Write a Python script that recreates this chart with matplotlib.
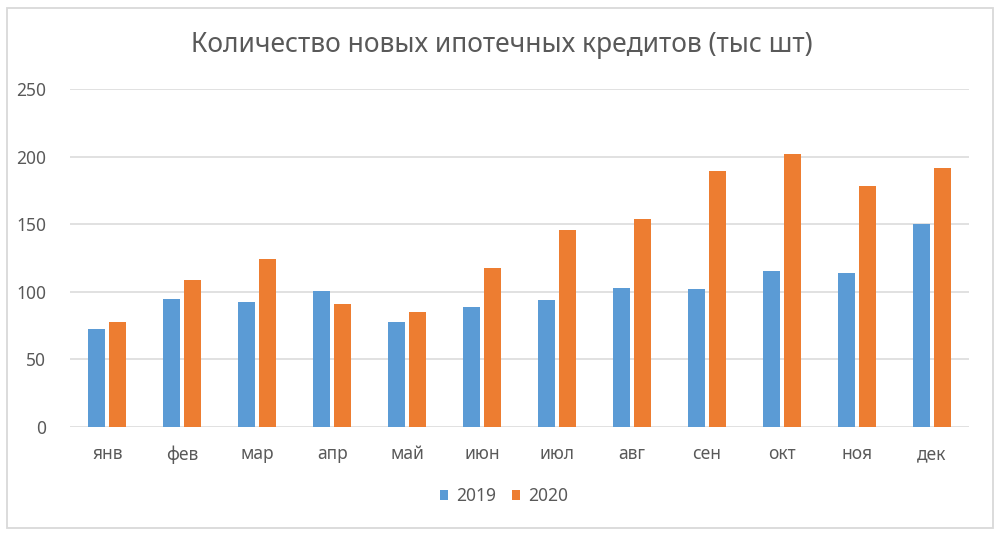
import numpy as np
import matplotlib.pyplot as plt
from matplotlib.patches import Rectangle

# Dados
meses = ["янв", "фев", "мар", "апр", "май", "июн",
         "июл", "авг", "сен", "окт", "ноя", "дек"]
v2019 = [72.3, 94.5, 92.3, 100.4, 77.5, 88.6, 93.8, 102.7, 101.9, 115.3, 113.8, 150.0]
v2020 = [77.5, 108.6, 124.1, 90.8, 84.9, 117.5, 145.6, 153.8, 189.3, 201.9, 178.2, 191.5]
anos = ["2019", "2020"]

plt.rcParams['font.family'] = ['Noto Sans', 'DejaVu Sans']
cinza = '#595959'
grade = '#d9d9d9'

fig = plt.figure(figsize=(10.03, 5.33), dpi=100)
ax = fig.add_axes([70 / 1003, 1 - 427 / 533, 899 / 1003, 338 / 533])

x = np.arange(len(meses))
w = 0.227
b1 = ax.bar(x - 0.14, v2019, width=w, color='#5B9BD5', label=anos[0], zorder=3)
b2 = ax.bar(x + 0.14, v2020, width=w, color='#ED7D31', label=anos[1], zorder=3)

ax.set_xlim(-0.5, len(meses) - 0.5)
ax.set_ylim(0, 250)
ax.set_yticks(np.arange(0, 251, 50))
ax.set_xticks(x)
ax.set_xticklabels(meses)
ax.grid(axis='y', color=grade, linewidth=1.1, zorder=0)
for s in ax.spines.values():
    s.set_visible(False)
ax.tick_params(length=0, colors=cinza, labelsize=12.5)
ax.tick_params(axis='x', pad=13)
ax.tick_params(axis='y', pad=17)

fig.text(0.5, 1 - 45 / 533, "Количество новых ипотечных кредитов (тыс шт)",
         ha='center', va='center', fontsize=19, color=cinza)

fig.legend(handles=[b1, b2], labels=anos, loc='center',
           bbox_to_anchor=(504 / 1003, 1 - 496 / 533), ncol=2, frameon=False,
           fontsize=12.5, labelcolor=cinza, handlelength=0.5, handleheight=0.5,
           handletextpad=0.45, columnspacing=0.9)

# moldura externa
fig.patches.append(Rectangle((7 / 1003, 1 - 528 / 533), 986 / 1003, 520 / 533,
                             transform=fig.transFigure, fill=False,
                             edgecolor=grade, linewidth=1.3))

fig.savefig("out.png", dpi=100)
